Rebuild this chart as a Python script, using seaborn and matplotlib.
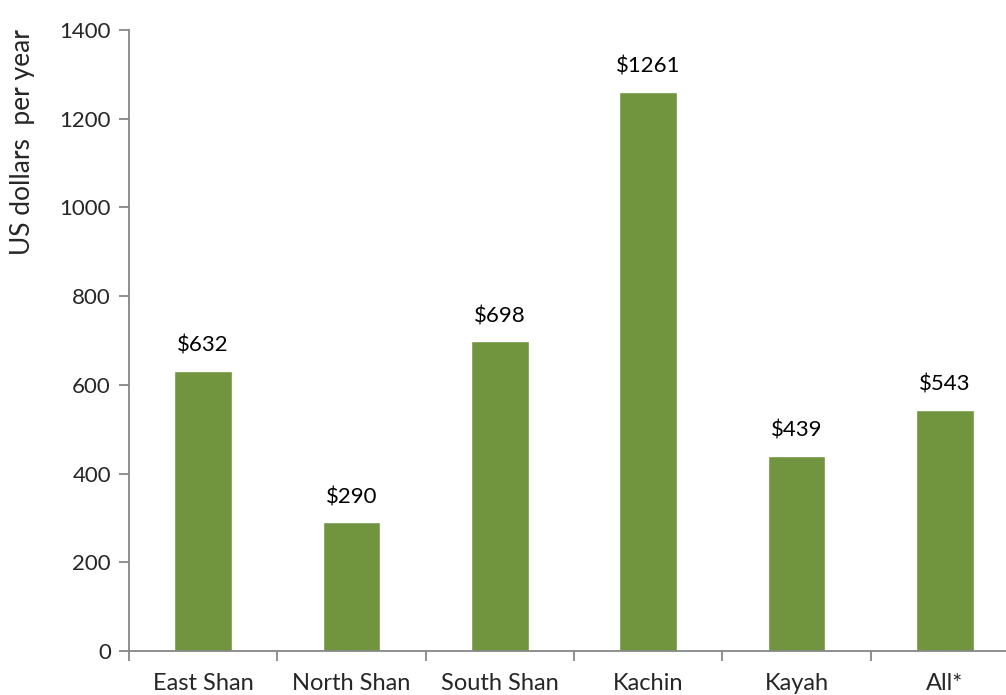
import matplotlib
matplotlib.use("Agg")
import matplotlib.pyplot as plt
import seaborn as sns
import pandas as pd
import numpy as np

regions = ["East Shan", "North Shan", "South Shan", "Kachin", "Kayah", "All*"]
income = [632, 290, 698, 1261, 439, 543]
labels = ["$632", "$290", "$698", "$1261", "$439", "$543"]

sns.set_style("white")
plt.rcParams['font.family'] = ['Lato', 'DejaVu Sans']

df = pd.DataFrame({"region": regions, "income": income})

fig = plt.figure(figsize=(10.06, 6.95), dpi=100)
ax = fig.add_axes([129/1006, 44/695, 890/1006, 621/695])
sns.barplot(data=df, x="region", y="income", color="#71943f", width=0.39,
            saturation=1, ax=ax)

for i, (v, t) in enumerate(zip(income, labels)):
    ax.annotate(t, (i, v), xytext=(0, 11), textcoords="offset points",
                ha="center", va="bottom", fontsize=16, color="black")

ax.set_xlim(-0.5, 5.5)
ax.set_ylim(0, 1400)
ax.set_yticks(np.arange(0, 1401, 200))
ax.set_xlabel("")
ax.set_ylabel("US dollars  per year", fontsize=19, va="center")
ax.yaxis.set_label_coords(-0.120, 0.82)

for s in ["top", "right"]:
    ax.spines[s].set_visible(False)
for s in ["left", "bottom"]:
    ax.spines[s].set_color("#868686")
    ax.spines[s].set_linewidth(1.3)

ax.tick_params(axis="y", which="major", length=7, width=1.3, color="#868686",
               labelsize=16, pad=6, left=True)
ax.tick_params(axis="x", which="major", length=0, labelsize=17, pad=16)
ax.set_xticks(np.arange(-0.5, 5.6, 1), minor=True)
ax.tick_params(axis="x", which="minor", length=7, width=1.3, color="#868686",
               bottom=True)

fig.savefig("out.png", dpi=100)
